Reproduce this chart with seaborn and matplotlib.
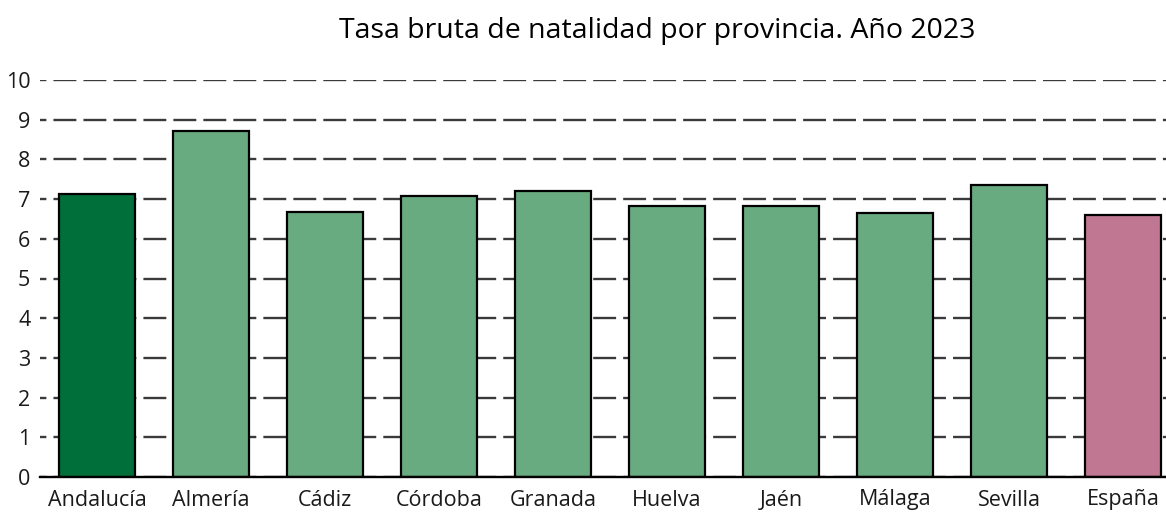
import matplotlib
matplotlib.use("Agg")
import matplotlib.pyplot as plt
import seaborn as sns

provincias = ['Andalucía', 'Almería', 'Cádiz', 'Córdoba', 'Granada',
              'Huelva', 'Jaén', 'Málaga', 'Sevilla', 'España']
tasa = [7.13, 8.72, 6.68, 7.08, 7.20, 6.83, 6.83, 6.65, 7.36, 6.60]
colores = ['#006f3a'] + ['#69ab81'] * 8 + ['#c07892']
yticks = list(range(0, 11))

sns.set_theme(style="white")
plt.rcParams['font.family'] = ['Open Sans', 'DejaVu Sans']

fig = plt.figure(figsize=(11.66, 5.19), dpi=100)
ax = fig.add_axes([40 / 1166, 42 / 519, 1140 / 1166, 397 / 519])

sns.barplot(x=provincias, y=tasa, hue=provincias, palette=colores, legend=False,
            width=0.675, edgecolor='black', linewidth=1.6, saturation=1, ax=ax, zorder=3)

ax.set_ylim(0, 10)
ax.set_xlim(-0.5, 9.5)
ax.set_yticks(yticks)
ax.yaxis.grid(True, color='#3a3a3a', linewidth=1.7, linestyle=(7, (9.7, 3.0)), zorder=0)
ax.set_axisbelow(True)
for s in ['top', 'right', 'left']:
    ax.spines[s].set_visible(False)
ax.spines['bottom'].set_color('black')
ax.spines['bottom'].set_linewidth(1.7)
ax.spines['bottom'].set_zorder(4)
ax.tick_params(axis='y', length=0, pad=7, labelsize=15.5, labelcolor='#1a1a1a')
ax.tick_params(axis='x', length=0, pad=9, labelsize=15.5, labelcolor='#1a1a1a')
ax.set_xlabel('')
ax.set_ylabel('')

fig.text(657 / 1166, 1 - 31 / 519, 'Tasa bruta de natalidad por provincia. Año 2023',
         ha='center', va='center', fontsize=20.5, color='black')

fig.savefig('out.png', dpi=100)
